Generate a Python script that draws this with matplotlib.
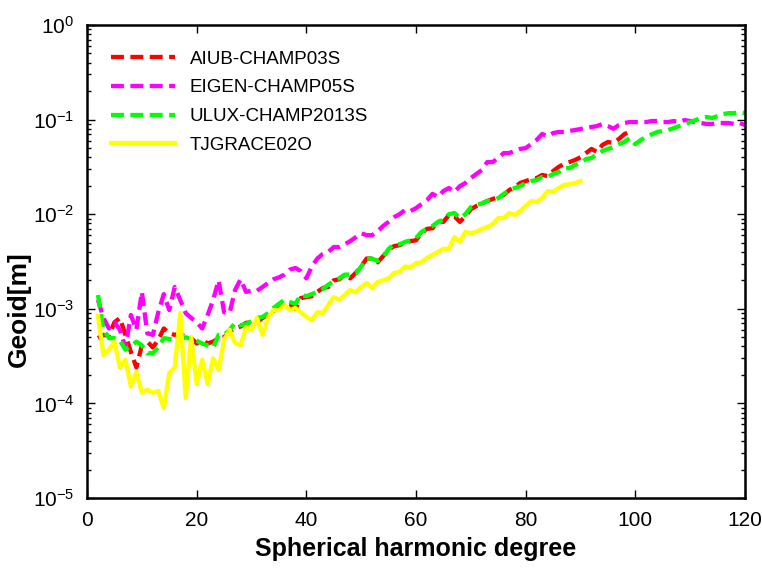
import matplotlib
matplotlib.use("Agg")
import matplotlib.pyplot as plt
from matplotlib.ticker import LogLocator, NullFormatter, MultipleLocator

plt.rcParams['font.family'] = ['Liberation Sans', 'DejaVu Sans']
plt.rcParams['mathtext.default'] = 'regular'

# geoid error per degree [m]
deg_aiub = list(range(2, 100))
aiub = [4.9e-4, 5.3e-4, 5.2e-4, 7.2e-4, 8.0e-4, 5.3e-4, 3.5e-4, 2.4e-4, 4.1e-4, 4.5e-4,
        3.9e-4, 4.7e-4, 6.2e-4, 5.5e-4, 5.3e-4, 5.5e-4, 5.0e-4, 4.9e-4, 4.3e-4, 4.7e-4,
        4.3e-4, 4.5e-4, 4.9e-4, 5.0e-4, 5.7e-4, 6.2e-4, 6.5e-4, 7.1e-4, 7.2e-4, 7.2e-4,
        8.0e-4, 8.6e-4, 9.5e-4, 1.04e-3, 1.15e-3, 1.13e-3, 1.0e-3, 1.3e-3, 1.33e-3, 1.36e-3,
        1.51e-3, 1.66e-3, 1.7e-3, 2.0e-3, 2.05e-3, 2.3e-3, 2.1e-3, 2.4e-3, 2.8e-3, 3.4e-3,
        3.4e-3, 3.1e-3, 3.6e-3, 4.2e-3, 4.6e-3, 4.7e-3, 5.0e-3, 5.2e-3, 5.3e-3, 6.3e-3,
        7.0e-3, 7.1e-3, 8.5e-3, 8.3e-3, 9.8e-3, 9.5e-3, 8.3e-3, 9.5e-3, 1.13e-2, 1.22e-2,
        1.3e-2, 1.38e-2, 1.45e-2, 1.52e-2, 1.6e-2, 1.8e-2, 1.93e-2, 2.14e-2, 2.24e-2, 2.35e-2,
        2.41e-2, 2.6e-2, 2.53e-2, 2.86e-2, 3.16e-2, 3.4e-2, 3.56e-2, 3.74e-2, 4.0e-2, 4.43e-2,
        4.9e-2, 4.55e-2, 5.4e-2, 5.8e-2, 5.66e-2, 6.24e-2, 7.04e-2, 7.4e-2]

deg_eigen = list(range(2, 121))
eigen = [1.24e-3, 8.0e-4, 6.2e-4, 7.2e-4, 6.0e-4, 3.9e-4, 8.6e-4, 6.0e-4, 1.51e-3, 5.5e-4,
         5.3e-4, 9.2e-4, 1.43e-3, 9.7e-4, 1.7e-3, 1.24e-3, 9.0e-4, 8.0e-4, 7.2e-4, 6.2e-4,
         8.6e-4, 1.24e-3, 2.0e-3, 9.2e-4, 9.0e-4, 1.58e-3, 2.05e-3, 1.51e-3, 1.55e-3, 1.55e-3,
         1.7e-3, 1.87e-3, 2.05e-3, 2.15e-3, 2.3e-3, 2.6e-3, 2.7e-3, 2.5e-3, 2.1e-3, 2.8e-3,
         3.4e-3, 3.8e-3, 4.0e-3, 4.5e-3, 4.5e-3, 4.8e-3, 5.2e-3, 5.7e-3, 6.3e-3, 6.0e-3,
         6.0e-3, 6.6e-3, 7.5e-3, 8.3e-3, 9.3e-3, 1.0e-2, 1.11e-2, 1.08e-2, 1.16e-2, 1.28e-2,
         1.41e-2, 1.64e-2, 1.52e-2, 1.76e-2, 1.89e-2, 1.72e-2, 1.98e-2, 2.14e-2, 2.41e-2, 2.66e-2,
         2.93e-2, 3.56e-2, 3.56e-2, 3.93e-2, 4.43e-2, 4.43e-2, 4.66e-2, 4.9e-2, 5.0e-2, 5.5e-2,
         6.1e-2, 7.04e-2, 6.7e-2, 7.2e-2, 7.4e-2, 7.4e-2, 7.6e-2, 7.76e-2, 7.96e-2, 8.15e-2,
         8.35e-2, 8.55e-2, 8.97e-2, 8.55e-2, 8.0e-2, 8.77e-2, 9.21e-2, 9.43e-2, 9.43e-2, 9.43e-2,
         9.43e-2, 9.66e-2, 9.66e-2, 9.43e-2, 9.43e-2, 9.66e-2, 9.43e-2, 9.9e-2, 9.66e-2, 9.43e-2,
         9.21e-2, 9.0e-2, 9.0e-2, 9.21e-2, 9.21e-2, 9.21e-2, 9.0e-2, 9.21e-2, 8.77e-2]

deg_ulux = list(range(2, 121))
ulux = [1.4e-3, 6.0e-4, 4.9e-4, 4.9e-4, 4.6e-4, 3.7e-4, 4.0e-4, 4.5e-4, 4.1e-4, 3.4e-4,
        3.4e-4, 3.9e-4, 4.9e-4, 4.8e-4, 4.7e-4, 4.8e-4, 5.0e-4, 4.8e-4, 4.6e-4, 4.3e-4,
        4.1e-4, 3.9e-4, 5.3e-4, 5.3e-4, 6.0e-4, 7.1e-4, 6.7e-4, 6.9e-4, 7.4e-4, 8.0e-4,
        8.2e-4, 9.0e-4, 1.02e-3, 1.13e-3, 1.24e-3, 1.18e-3, 1.13e-3, 1.4e-3, 1.36e-3, 1.43e-3,
        1.51e-3, 1.62e-3, 1.8e-3, 1.96e-3, 2.1e-3, 2.3e-3, 2.3e-3, 2.35e-3, 2.8e-3, 3.4e-3,
        3.4e-3, 3.2e-3, 3.5e-3, 4.3e-3, 4.8e-3, 4.8e-3, 5.1e-3, 5.3e-3, 5.6e-3, 6.5e-3,
        7.0e-3, 7.5e-3, 8.3e-3, 8.7e-3, 1.0e-2, 1.03e-2, 9.1e-3, 1.0e-2, 1.19e-2, 1.25e-2,
        1.3e-2, 1.38e-2, 1.41e-2, 1.48e-2, 1.64e-2, 1.8e-2, 1.89e-2, 1.98e-2, 2.14e-2, 2.24e-2,
        2.3e-2, 2.47e-2, 2.47e-2, 2.66e-2, 2.79e-2, 3.07e-2, 3.07e-2, 3.31e-2, 3.48e-2, 3.83e-2,
        3.93e-2, 4.33e-2, 4.66e-2, 4.9e-2, 5.13e-2, 5.5e-2, 5.8e-2, 6.39e-2, 5.5e-2, 6.1e-2,
        6.55e-2, 7.0e-2, 7.4e-2, 7.6e-2, 7.76e-2, 8.15e-2, 8.55e-2, 8.97e-2, 9.43e-2, 9.9e-2,
        0.104, 0.1065, 0.104, 0.109, 0.1145, 0.117, 0.117, 0.12, 0.117]

deg_tj = list(range(2, 91))
tj = [8.4e-4, 3.25e-4, 3.7e-4, 4.5e-4, 2.4e-4, 2.9e-4, 1.5e-4, 2.15e-4, 1.3e-4, 1.4e-4,
      1.3e-4, 1.35e-4, 8.9e-5, 2.1e-4, 2.4e-4, 9.0e-4, 1.14e-4, 5.0e-4, 1.6e-4, 2.9e-4,
      1.6e-4, 3.0e-4, 2.25e-4, 4.7e-4, 6.0e-4, 4.35e-4, 4.1e-4, 6.4e-4, 6.0e-4, 8.0e-4,
      5.3e-4, 8.0e-4, 9.7e-4, 9.7e-4, 1.1e-3, 9.7e-4, 1.02e-3, 9.2e-4, 8.2e-4, 7.6e-4,
      9.2e-4, 9.0e-4, 1.1e-3, 1.33e-3, 1.24e-3, 1.4e-3, 1.58e-3, 1.5e-3, 1.7e-3, 1.87e-3,
      1.65e-3, 1.92e-3, 2.0e-3, 2.1e-3, 2.4e-3, 2.45e-3, 2.8e-3, 2.75e-3, 3.05e-3, 3.1e-3,
      3.45e-3, 3.7e-3, 4.0e-3, 4.3e-3, 4.3e-3, 5.7e-3, 5.1e-3, 6.5e-3, 6.3e-3, 6.5e-3,
      7.0e-3, 7.3e-3, 7.9e-3, 9.1e-3, 9.1e-3, 1.03e-2, 9.8e-3, 1.08e-2, 1.22e-2, 1.38e-2,
      1.35e-2, 1.48e-2, 1.76e-2, 1.72e-2, 1.89e-2, 2.04e-2, 2.08e-2, 2.13e-2, 2.24e-2]

fig = plt.figure(figsize=(7.62, 5.70), dpi=100)
ax = fig.add_axes([0.1142, 0.1263, 0.8635, 0.8298])

lw = 3.1
dash = (3.0, 1.5)
ax.plot(deg_aiub, aiub, color='#ff0000', lw=lw, dashes=dash, label='AIUB-CHAMP03S')
ax.plot(deg_eigen, eigen, color='#ff00ff', lw=lw, dashes=dash, label='EIGEN-CHAMP05S')
ax.plot(deg_ulux, ulux, color='#00ff00', lw=lw, dashes=dash, label='ULUX-CHAMP2013S')
ax.plot(deg_tj, tj, color='#ffff00', lw=lw, label='TJGRACE02O')

ax.set_yscale('log')
ax.set_xlim(0, 120)
ax.set_ylim(1e-5, 1)
ax.xaxis.set_major_locator(MultipleLocator(20))
ax.yaxis.set_major_locator(LogLocator(base=10, numticks=10))
ax.yaxis.set_minor_locator(LogLocator(base=10, subs=range(2, 10), numticks=10))
ax.yaxis.set_minor_formatter(NullFormatter())

ax.tick_params(which='both', direction='in', top=True, right=True, labelsize=15, width=1.0)
ax.tick_params(which='major', length=6, pad=9)
ax.tick_params(which='minor', length=3)
for s in ax.spines.values():
    s.set_linewidth(1.8)

ax.set_xlabel('Spherical harmonic degree', fontsize=18, fontweight='bold')
ax.set_ylabel('Geoid[m]', fontsize=19, fontweight='bold')
ax.xaxis.set_label_coords(0.5, -0.083)
ax.yaxis.set_label_coords(-0.085, 0.4)

ax.legend(loc='upper left', frameon=False, fontsize=13.5, handlelength=3.4,
          handletextpad=0.8, labelspacing=0.62, borderaxespad=0.0,
          bbox_to_anchor=(0.025, 0.962))

fig.savefig('out.png', dpi=100)
